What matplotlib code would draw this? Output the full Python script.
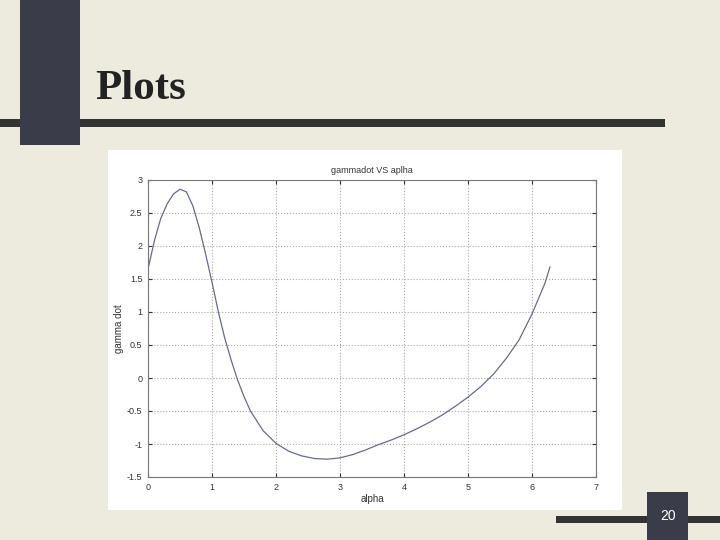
import matplotlib
matplotlib.use("Agg")
import matplotlib.pyplot as plt
from matplotlib.patches import Rectangle

# data
alpha = [0.0, 0.1, 0.2, 0.3, 0.4, 0.5, 0.6, 0.7, 0.8, 0.9, 1.0, 1.1, 1.2, 1.3,
         1.4, 1.5, 1.6, 1.8, 2.0, 2.2, 2.4, 2.6, 2.8, 3.0, 3.2, 3.4, 3.6, 3.8,
         4.0, 4.2, 4.4, 4.6, 4.8, 5.0, 5.2, 5.4, 5.6, 5.8, 6.0, 6.2, 6.28]
gammadot = [1.65, 2.08, 2.42, 2.64, 2.79, 2.86, 2.82, 2.61, 2.28, 1.88, 1.45,
            1.0, 0.6, 0.27, -0.03, -0.28, -0.5, -0.8, -0.99, -1.11, -1.18,
            -1.22, -1.23, -1.21, -1.16, -1.09, -1.01, -0.94, -0.86, -0.77,
            -0.67, -0.56, -0.43, -0.29, -0.13, 0.06, 0.3, 0.58, 0.97, 1.43, 1.68]
xticks = [0, 1, 2, 3, 4, 5, 6, 7]
yticks = [-1.5, -1, -0.5, 0, 0.5, 1, 1.5, 2, 2.5, 3]
ytick_labels = ["-1.5", "-1", "-0.5", "0", "0.5", "1", "1.5", "2", "2.5", "3"]

W, H = 720, 540
fig = plt.figure(figsize=(7.2, 5.4), dpi=100)
fig.patch.set_facecolor("#ECEBDE")

def px_rect(x0, y0, x1, y1, color, z):
    r = Rectangle((x0 / W, 1 - y1 / H), (x1 - x0) / W, (y1 - y0) / H,
                  transform=fig.transFigure, facecolor=color, edgecolor="none",
                  zorder=z)
    fig.add_artist(r)

# slide decorations
px_rect(0, 119, 665, 127, "#333333", 1)
px_rect(20, 0, 80, 145, "#3A3C4A", 2)
px_rect(556, 516, 720, 523, "#333333", 1)
px_rect(647, 492, 688, 540, "#3A3C4A", 2)
fig.text(95 / W, 1 - 99 / H, "Plots", family="Liberation Serif", weight="bold",
         fontsize=31, color="#222222", ha="left", va="baseline")
fig.text(668 / W, 1 - 516 / H, "20", family="Liberation Sans", fontsize=10,
         color="white", ha="center", va="center", zorder=3)

# white image panel
px_rect(108, 150, 622, 510, "white", 0.5)

ax = fig.add_axes([148 / W, 1 - 477 / H, 448 / W, 297 / H])
ax.set_zorder(2)
ax.plot(alpha, gammadot, color="#666A96", linewidth=0.9)
ax.set_xlim(0, 7)
ax.set_ylim(-1.5, 3)
ax.set_xticks(xticks)
ax.set_yticks(yticks)
ax.set_yticklabels(ytick_labels)
ax.grid(True, linestyle=":", color="#ababab", linewidth=0.8)
ax.tick_params(direction="in", length=3, top=True, right=True,
               labelsize=6.5, colors="#333333", pad=4)
for s in ax.spines.values():
    s.set_color("#777777")
    s.set_linewidth(0.8)
ax.set_title("gammadot VS aplha", fontsize=6.5, color="#333333", pad=5,
             family="Liberation Sans")
ax.set_xlabel("alpha", fontsize=7, color="#333333", labelpad=2,
              family="Liberation Sans")
ax.set_ylabel("gamma dot", fontsize=7, color="#333333", labelpad=2,
              family="Liberation Sans")
for lbl in ax.get_xticklabels() + ax.get_yticklabels():
    lbl.set_family("Liberation Sans")

fig.savefig("out.png", dpi=100, facecolor=fig.get_facecolor())
